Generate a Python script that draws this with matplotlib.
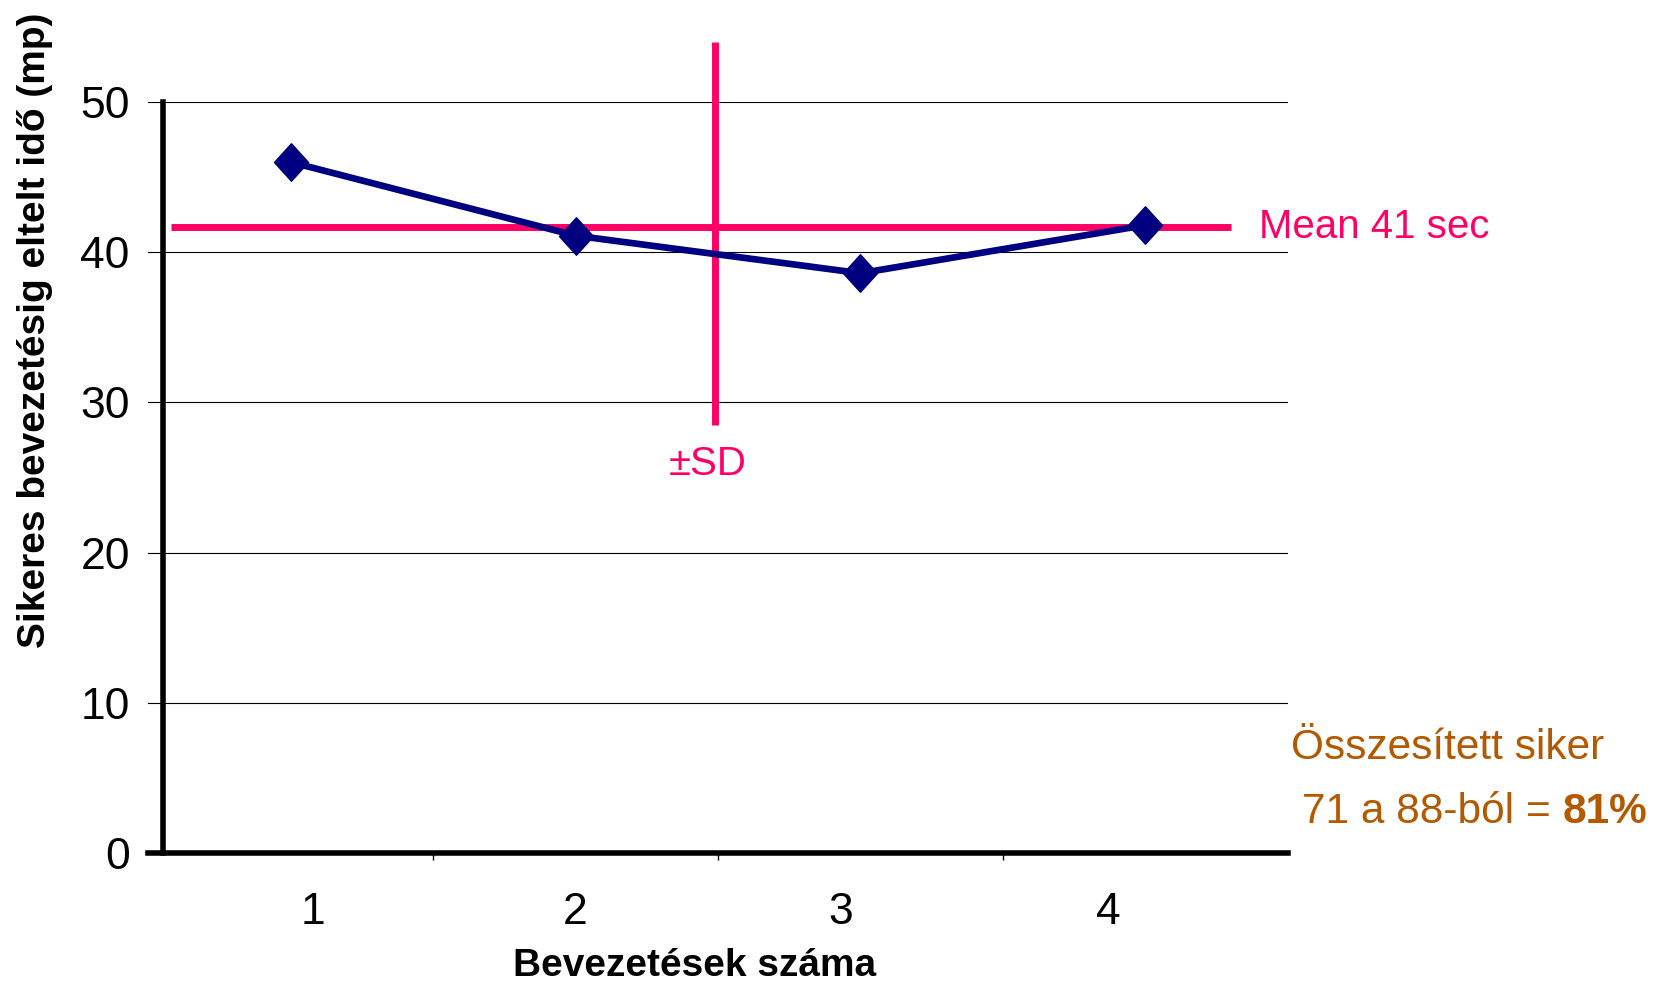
import numpy as np
import matplotlib.pyplot as plt
from matplotlib.path import Path

plt.rcParams['font.family'] = ['Liberation Sans Narrow', 'Liberation Sans', 'DejaVu Sans']

# data
attempts = [1, 2, 3, 4]
times = [46.0, 41.1, 38.6, 41.8]
mean_time = 41.7
sd_low, sd_high = 28.5, 54.0
sd_x = 2.49
tick_labels = ['1', '2', '3', '4']
yticks = [0, 10, 20, 30, 40, 50]

navy = '#000080'
pink = '#FF0066'
brown = '#B35900'

# slightly tall diamond
diamond = Path([(0, 1.1), (1, 0), (0, -1.1), (-1, 0), (0, 1.1)],
               [Path.MOVETO, Path.LINETO, Path.LINETO, Path.LINETO, Path.CLOSEPOLY])

fig = plt.figure(figsize=(16.77, 9.88), dpi=100)
ax = fig.add_axes([0.0883, 0.1366, 0.768 - 0.0883, 0.8968 - 0.1366])

ax.set_xlim(0.5, 4.5)
ax.set_ylim(0, 50)

# gridlines
for y in yticks[1:]:
    ax.axhline(y, color='black', lw=0.8, zorder=1)

# series
ax.plot(attempts, times, color=navy, lw=4.8, marker=diamond, markersize=27,
        zorder=4, clip_on=False)

# mean and SD
ax.plot([0.58, 4.30], [mean_time, mean_time], color=pink, lw=5, zorder=3,
        solid_capstyle='butt')
ax.plot([sd_x, sd_x], [sd_low, sd_high], color=pink, lw=5, zorder=3,
        clip_on=False, solid_capstyle='butt')

ax.text(4.40, mean_time, 'Mean 41 sec', color=pink, fontsize=29,
        va='center', ha='left')
ax.text(sd_x - 0.025, 25.9, '±SD', color=pink, fontsize=29, va='center', ha='center')

# summary text
ax.text(4.51, 7.0, 'Összesített siker', color=brown, fontsize=30.5,
        va='center', ha='left', clip_on=False)
t2 = ax.text(4.55, 2.75, '71 a 88-ból = ', color=brown, fontsize=30.5,
             va='center', ha='left', clip_on=False)
ax.annotate('81%', xy=(1, 0.5), xycoords=t2, color=brown, fontsize=30.5,
            fontweight='bold', va='center', ha='left', annotation_clip=False)

# axes styling
for s in ['top', 'right']:
    ax.spines[s].set_visible(False)
ax.spines['left'].set_position(('data', 0.553))
ax.spines['left'].set_linewidth(4)
ax.spines['bottom'].set_linewidth(4)

ax.set_yticks(yticks)
ax.set_yticklabels([str(v) for v in yticks], fontsize=32)
ax.tick_params(axis='y', length=0, pad=24)

ax.set_xticks([1.08, 2.0, 2.93, 3.87])
ax.set_xticklabels(tick_labels, fontsize=32)
ax.tick_params(axis='x', which='major', length=0, pad=28)
ax.set_xticks([1.5, 2.5, 3.5], minor=True)
ax.tick_params(axis='x', which='minor', length=5, width=1, direction='out')

ax.set_xlabel('Bevezetések száma', fontsize=28, fontweight='bold')
ax.xaxis.set_label_coords(0.479, -0.127)
ax.set_ylabel('Sikeres bevezetésig eltelt idő (mp)', fontsize=28,
              fontweight='bold', va='center')
ax.yaxis.set_label_coords(-0.099, 0.696)

fig.savefig('out.png', dpi=100)
